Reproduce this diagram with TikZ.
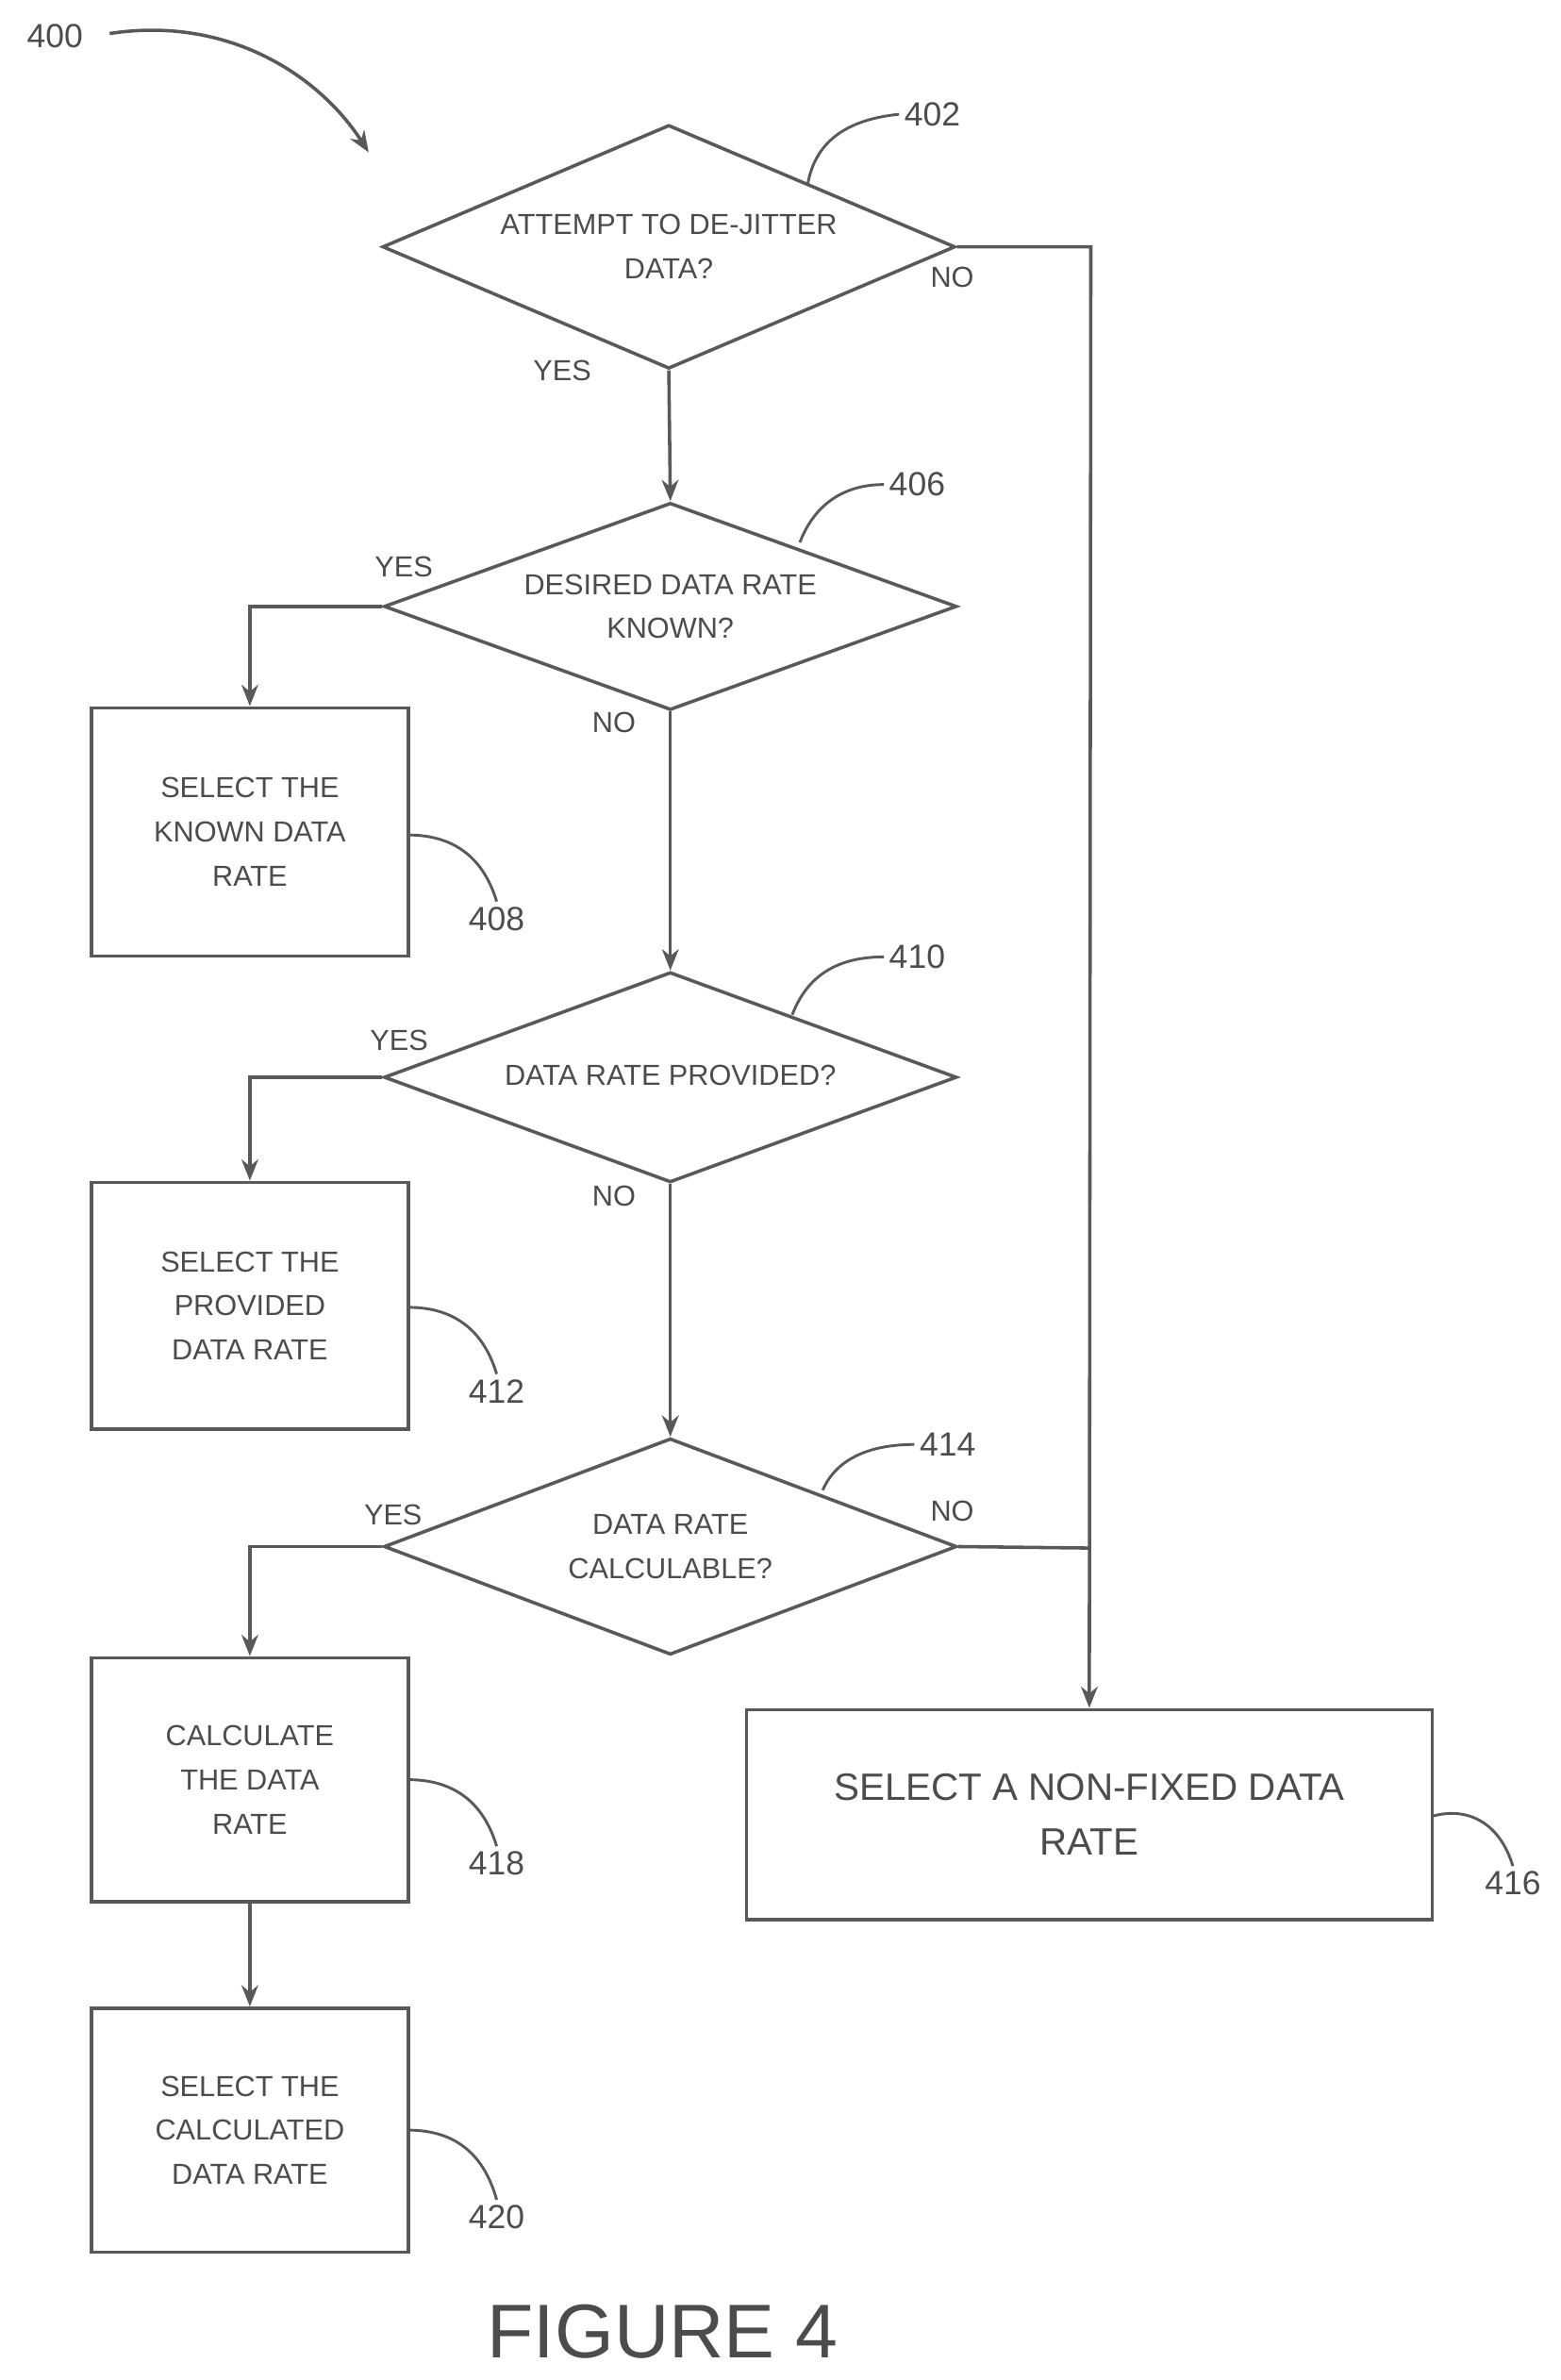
\documentclass[tikz,border=0pt]{standalone}
\usepackage{fontspec}
\setmainfont{Liberation Sans}
\usetikzlibrary{shapes.geometric,arrows.meta}
\begin{document}
\begin{tikzpicture}[x=1pt,y=-1pt,
  ln/.style={draw=black!65,line width=2.2pt},
  arr/.style={ln,-{Stealth[length=14pt,width=11pt]}},
  dia/.style={diamond,ln,inner sep=0pt,minimum width=376pt,minimum height=#1},
  box/.style={rectangle,ln,inner sep=0pt,minimum width=208pt,minimum height=#1},
  txt/.style={font=\fontsize{19}{29}\selectfont,text=black!70,align=center},
  lbl/.style={font=\fontsize{22}{26}\selectfont,text=black!70},
  lead/.style={draw=black!65,line width=1.8pt}]
\useasboundingbox (0,0) rectangle (1024,1562);
\node[dia=160pt] (d402) at (439,162) {};
\node[txt] (t402) at (439,162) {ATTEMPT TO DE-JITTER\\DATA?};
\node[dia=136pt] (d406) at (440,398) {};
\node[txt] (t406) at (440,398) {DESIRED DATA RATE\\KNOWN?};
\node[dia=138pt] (d410) at (440,707) {};
\node[txt] (t410) at (440,706) {DATA RATE PROVIDED?};
\node[dia=142pt] (d414) at (440,1015) {};
\node[txt] (t414) at (440,1015) {DATA RATE\\CALCULABLE?};
\node[box=163pt,txt] (b408) at (164,546) {SELECT THE\\KNOWN DATA\\RATE};
\node[box=162pt,txt] (b412) at (164,857) {SELECT THE\\PROVIDED\\DATA RATE};
\node[box=160pt,txt] (b418) at (164,1168) {CALCULATE\\THE DATA\\RATE};
\node[box=160pt,txt] (b420) at (164,1398) {SELECT THE\\CALCULATED\\DATA RATE};
\node[rectangle,ln,minimum width=450pt,minimum height=138pt,inner sep=0pt,
  font=\fontsize{25}{36}\selectfont,text=black!70,align=center] (b416) at (715,1191) {SELECT A NON-FIXED DATA\\RATE};
\coordinate (c1) at (716,162);
\coordinate (c2) at (716,1016);
\draw[arr] (d402.south) -- (d406.north);
\draw[arr] (d402.east) -- (c1) -- (b416.north);
\draw[ln] (d414.east) -- (c2);
\draw[arr] (d406.west) -| (b408.north);
\draw[arr] (d406.south) -- (d410.north);
\draw[arr] (d410.west) -| (b412.north);
\draw[arr] (d410.south) -- (d414.north);
\draw[arr] (d414.west) -| (b418.north);
\draw[arr] (b418.south) -- (b420.north);
% yes/no
\node[txt] (y1) at (369,243) {YES};
\node[txt] (n1) at (625,182) {NO};
\node[txt] (y2) at (265,372) {YES};
\node[txt] (n2) at (403,474) {NO};
\node[txt] (y3) at (262,683) {YES};
\node[txt] (n3) at (403,785) {NO};
\node[txt] (y4) at (258,994) {YES};
\node[txt] (n4) at (625,992) {NO};
% reference labels
\node[lbl] (l400) at (36,24) {400};
\coordinate (a0) at (72,22);
\coordinate (a1) at (242,100);
\draw[arr] (a0) .. controls (150,10) and (210,50) .. (a1);
\node[lbl] (l402) at (612,75) {402};
\node[lbl] (l406) at (602,318) {406};
\node[lbl] (l408) at (326,603) {408};
\node[lbl] (l410) at (602,628) {410};
\node[lbl] (l412) at (326,913) {412};
\node[lbl] (l414) at (622,948) {414};
\node[lbl] (l418) at (326,1223) {418};
\node[lbl] (l420) at (326,1455) {420};
\node[lbl] (l416) at (993,1236) {416};
\draw[lead] (530,122) .. controls (535,90) and (560,78) .. (l402.west);
\draw[lead] (525,356) .. controls (535,330) and (555,318) .. (l406.west);
\draw[lead] (268,548) .. controls (300,548) and (318,565) .. (l408.north);
\draw[lead] (520,666) .. controls (530,640) and (550,628) .. (l410.west);
\draw[lead] (268,858) .. controls (300,858) and (318,875) .. (l412.north);
\draw[lead] (540,978) .. controls (550,955) and (575,948) .. (l414.west);
\draw[lead] (268,1168) .. controls (300,1168) and (318,1185) .. (l418.north);
\draw[lead] (268,1398) .. controls (300,1398) and (318,1415) .. (l420.north);
\draw[lead] (940,1192) .. controls (965,1185) and (985,1198) .. (l416.north);
\node[font=\fontsize{50}{56}\selectfont,text=black!70] (fig) at (435,1530) {FIGURE 4};
\end{tikzpicture}
\end{document}
